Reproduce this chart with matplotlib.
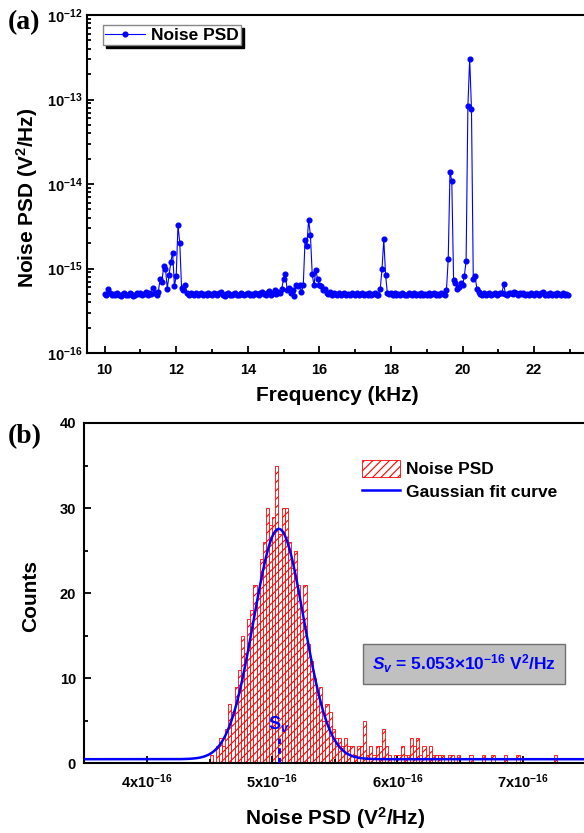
import numpy as np
import matplotlib
matplotlib.use('Agg')
import matplotlib.pyplot as plt
from matplotlib.ticker import MultipleLocator, FuncFormatter, LogLocator, NullFormatter

plt.rcParams['font.family'] = ['Liberation Sans', 'DejaVu Sans']
plt.rcParams['font.weight'] = 'bold'
plt.rcParams['axes.labelweight'] = 'bold'
plt.rcParams['mathtext.fontset'] = 'custom'
plt.rcParams['mathtext.rm'] = 'Liberation Sans:bold'
plt.rcParams['mathtext.bf'] = 'Liberation Sans:bold'
plt.rcParams['mathtext.it'] = 'Liberation Sans:italic:bold'
plt.rcParams['mathtext.default'] = 'rm'
plt.rcParams['axes.unicode_minus'] = False
plt.rcParams['hatch.linewidth'] = 0.8

# ---- (a) noise PSD spectrum, values in 1e-16 V^2/Hz, 10.00 .. 22.95 kHz step 0.05
freq = np.linspace(10.0, 22.95, 260)
psd = np.array([
    5.0, 4.9, 5.8, 5.1, 4.8, 5.0, 4.9, 5.2, 4.8, 4.7, 5.0, 5.1, 4.8, 4.9, 5.2, 5.0, 4.7, 4.9, 5.1, 5.0,
    5.2, 4.9, 5.0, 5.3, 4.8, 5.1, 5.0, 5.9, 5.1, 4.9, 5.3, 7.5, 6.9, 10.7, 10.0, 5.8, 8.4, 12.0, 15.4, 6.2,
    8.2, 32.7, 19.9, 5.9, 5.6, 6.4, 5.2, 4.9, 5.1, 5.0, 4.8, 5.1, 4.9, 5.0, 5.2, 4.8, 5.0, 4.9, 5.1, 5.0,
    4.9, 5.2, 5.0, 4.8, 5.1, 5.3, 4.9, 4.7, 5.0, 5.1, 4.8, 4.9, 5.0, 5.2, 4.9, 4.8, 5.1, 5.0, 4.9, 5.0,
    5.1, 4.8, 5.0, 4.9, 5.2, 5.0, 4.8, 5.1, 5.3, 5.0, 4.9, 5.2, 5.4, 4.9, 5.1, 5.6, 5.0, 5.3, 5.2, 5.8,
    7.5, 8.5, 5.6, 5.9, 5.2, 5.5, 4.7, 6.3, 6.2, 6.4, 5.3, 6.3, 21.7, 18.6, 37.5, 24.9, 8.6, 6.3, 9.6, 7.5,
    6.4, 6.2, 5.5, 5.8, 5.2, 5.0, 5.3, 4.9, 5.1, 5.0, 4.8, 5.2, 4.9, 5.0, 5.1, 4.8, 5.0, 4.9, 5.2, 5.0,
    4.9, 5.1, 4.8, 5.0, 5.2, 4.9, 5.0, 4.8, 5.1, 4.9, 5.0, 5.2, 4.8, 4.9, 5.7, 9.8, 22.2, 8.4, 5.1, 5.0,
    5.2, 4.9, 5.1, 4.8, 5.0, 4.9, 5.1, 5.0, 4.8, 4.9, 5.1, 5.0, 4.8, 5.2, 4.9, 5.0, 4.8, 5.1, 4.9, 5.0,
    4.8, 5.1, 4.9, 5.0, 5.2, 4.9, 5.0, 4.8, 5.1, 5.0, 4.9, 5.5, 12.8, 140, 108, 7.4, 6.8, 5.7, 6.1, 6.8,
    6.3, 8.1, 12.3, 840, 3040, 770, 7.6, 8.1, 5.8, 5.3, 5.0, 4.8, 5.1, 4.9, 5.0, 5.2, 4.9, 5.0, 5.1, 4.8,
    5.0, 5.2, 5.1, 6.5, 5.0, 4.9, 5.1, 5.2, 5.0, 5.3, 5.2, 4.9, 5.1, 5.0, 5.2, 4.8, 5.0, 4.9, 5.1, 5.0,
    4.9, 5.1, 5.0, 4.8, 5.2, 5.3, 4.9, 5.0, 4.8, 5.1, 4.9, 5.0, 4.8, 5.1, 5.0, 4.9, 5.1, 4.8, 5.0, 4.9,
]) * 1e-16

# ---- (b) histogram counts, bins of 0.025e-16 starting at 4.50e-16
bin_start = 4.50
bin_width = 0.025
counts = [
    1, 0, 2, 3, 2, 4, 7, 6, 9, 11, 15, 13, 17, 18, 21, 20, 24, 26, 30, 28,
    29, 35, 27, 30, 30, 26, 23, 25, 21, 17, 21, 14, 12, 10, 8, 9, 5, 7, 6, 4,
    3, 3, 2, 3, 2, 2, 1, 2, 2, 5, 1, 2, 1, 2, 2, 4, 2, 1, 0, 1,
    1, 2, 1, 1, 3, 2, 3, 1, 2, 1, 2, 1, 1, 1, 1, 0, 1, 1, 0, 1,
    0, 0, 0, 1, 0, 0, 0, 1, 0, 0, 1, 0, 0, 0, 1, 0, 0, 0, 1, 0,
    0, 0, 0, 0, 0, 0, 0, 0, 0, 0, 1, 0,
]
# Gaussian fit parameters (in 1e-16 units)
g_center = 5.053
g_sigma = 0.20
g_amp = 27.1
g_base = 0.45

fig = plt.figure(figsize=(5.84, 8.33), dpi=100)

# ---------------- panel (a)
ax1 = fig.add_axes([0.1485, 0.5762, 0.858, 0.4058])
ax1.semilogy(freq, psd, '-o', color='blue', lw=0.8, ms=3.4, label='Noise PSD')
ax1.set_xlim(9.5, 23.5)
ax1.set_ylim(1e-16, 1e-12)
ax1.xaxis.set_major_locator(MultipleLocator(2))
ax1.xaxis.set_minor_locator(MultipleLocator(1))
ax1.yaxis.set_major_locator(LogLocator(base=10, numticks=10))
ax1.yaxis.set_minor_locator(LogLocator(base=10, subs=np.arange(2, 10), numticks=20))
ax1.yaxis.set_minor_formatter(NullFormatter())
ax1.tick_params(which='both', direction='in', width=1.3, labelsize=10.5)
ax1.tick_params(which='major', length=5)
ax1.tick_params(which='minor', length=3)
ax1.tick_params(axis='x', pad=7)
ax1.tick_params(axis='y', pad=3)
for s in ax1.spines.values():
    s.set_linewidth(1.5)
ax1.set_xlabel('Frequency (kHz)', fontsize=15)
ax1.set_ylabel('Noise PSD (V$^{2}$/Hz)', fontsize=15)
ax1.yaxis.set_label_coords(-0.093, 0.46)
ax1.xaxis.set_label_coords(0.5, -0.098)
ax1.legend(loc='upper left', bbox_to_anchor=(0.032, 0.970), borderaxespad=0,
           fancybox=False, shadow={'color': 'black', 'alpha': 1}, edgecolor='#888888',
           framealpha=1, fontsize=12.5, handlelength=2.3, handletextpad=0.3,
           borderpad=0.15)

# ---------------- panel (b)
ax2 = fig.add_axes([0.1443, 0.084, 0.858, 0.4082])
counts = np.array(counts)
left = (bin_start + bin_width * np.arange(len(counts))) * 1e-16
keep = counts > 0
bars = ax2.bar(left[keep], counts[keep], width=bin_width * 1e-16, align='edge',
               facecolor='white', edgecolor='red', hatch='////', lw=0.6, label='Noise PSD')
xs = np.linspace(3.5, 7.5, 800)
ys = g_base + g_amp * np.exp(-(xs - g_center) ** 2 / (2 * g_sigma ** 2))
fit, = ax2.plot(xs * 1e-16, ys, color='blue', lw=1.8, label='Gaussian fit curve', zorder=3)
ax2.plot([g_center * 1e-16] * 2, [0, 3.4], color='blue', lw=2, dashes=(2, 1.5), zorder=4)
ax2.text(g_center * 1e-16, 3.4, r'S$_{\mathit{v}}$', color='blue', ha='center', va='bottom',
         fontsize=13)

ax2.set_xlim(3.5e-16, 7.5e-16)
ax2.set_ylim(0, 40)
ax2.xaxis.set_major_locator(MultipleLocator(1e-16))
ax2.xaxis.set_minor_locator(MultipleLocator(0.5e-16))
ax2.xaxis.set_major_formatter(FuncFormatter(lambda v, p: '%dx10$^{-16}$' % round(v * 1e16)))
ax2.yaxis.set_major_locator(MultipleLocator(10))
ax2.yaxis.set_minor_locator(MultipleLocator(5))
ax2.tick_params(which='both', direction='in', width=1.3, labelsize=10.5)
ax2.tick_params(which='major', length=5)
ax2.tick_params(which='minor', length=3)
ax2.tick_params(axis='x', pad=7)
ax2.tick_params(axis='y', pad=6)
for s in ax2.spines.values():
    s.set_linewidth(1.5)
ax2.set_xlabel('Noise PSD (V$^{2}$/Hz)', fontsize=15)
ax2.set_ylabel('Counts', fontsize=15)
ax2.yaxis.set_label_coords(-0.088, 0.49)
ax2.xaxis.set_label_coords(0.5, -0.124)
ax2.legend([bars, fit], ['Noise PSD', 'Gaussian fit curve'], loc='upper left',
           bbox_to_anchor=(0.554, 0.891), frameon=False, fontsize=12.5,
           handlelength=2.2, handleheight=1.1, borderaxespad=0, borderpad=0,
           handletextpad=0.35, labelspacing=0.3)
ax2.text(0.758, 0.291, r'$\mathit{S}_{\mathit{v}}$ = 5.053×10$^{-16}$ V$^{2}$/Hz',
         transform=ax2.transAxes, ha='center', va='center', color='blue', fontsize=12.5,
         bbox=dict(boxstyle='square,pad=0.5', facecolor='#c0c0c0', edgecolor='#707070', lw=1))

fig.text(0.013, 0.973, '(a)', family='Liberation Serif', weight='bold', fontsize=20, va='center')
fig.text(0.013, 1 - 437 / 833, '(b)', family='Liberation Serif', weight='bold', fontsize=20,
         va='center')

fig.savefig('out.png', dpi=100)
